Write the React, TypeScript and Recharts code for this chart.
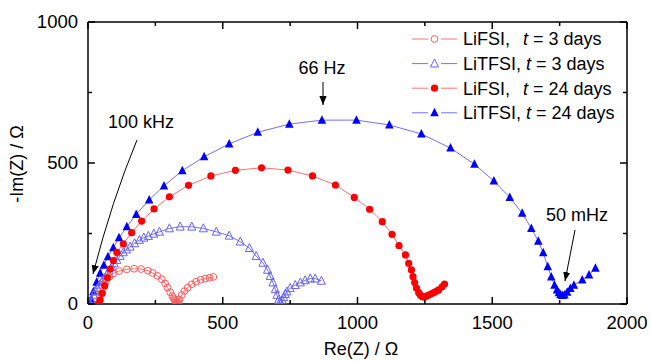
import React from 'react';
import { ScatterChart, Scatter, XAxis, YAxis } from 'recharts';

// [Re(Z), -Im(Z)] in ohm
const LIFSI_3D: [number, number][] = [
  [38, 2], [42, 18], [48, 38], [56, 58], [66, 78], [79, 96], [94, 108], [116, 117],
  [144, 123], [171, 125], [197, 124], [222, 118], [240, 110], [257, 100], [274, 88],
  [286, 73], [295, 58], [305, 42], [313, 28], [318, 20], [321, 15], [324, 10], [327, 6],
  [330, 4], [333, 3], [336, 8], [339, 16], [348, 32], [358, 46], [370, 58], [385, 70],
  [401, 79], [418, 86], [435, 90], [451, 93], [465, 96],
];

const LITFSI_3D: [number, number][] = [
  [7, 2], [12, 16], [20, 32], [27, 45], [35, 56], [43, 68], [51, 79], [60, 91], [69, 103],
  [78, 118], [88, 132], [97, 144], [107, 156], [119, 170], [131, 183], [143, 193],
  [156, 203], [173, 215], [191, 227], [207, 235], [224, 241], [244, 249], [265, 256],
  [302, 268], [342, 274], [385, 274], [428, 268], [476, 256], [524, 242], [565, 221],
  [599, 198], [624, 170], [649, 146], [666, 121], [676, 99], [686, 76], [695, 52],
  [701, 32], [707, 14], [711, 5], [716, 3], [721, 12], [726, 24], [732, 35], [738, 44],
  [750, 56], [769, 67], [788, 76], [806, 84], [825, 90], [843, 90], [866, 82],
];

const LIFSI_24D: [number, number][] = [
  [40, 2], [45, 14], [53, 38], [62, 65], [72, 93], [82, 124], [94, 154], [107, 183],
  [131, 213], [162, 253], [199, 294], [245, 337], [302, 380], [373, 421], [456, 454],
  [547, 474], [644, 483], [742, 475], [833, 454], [918, 422], [988, 378], [1045, 336],
  [1092, 292], [1128, 247], [1154, 207], [1178, 174], [1190, 144], [1200, 121],
  [1206, 97], [1212, 76], [1219, 56], [1227, 40], [1233, 32], [1240, 26], [1248, 24],
  [1256, 28], [1264, 32], [1274, 36], [1283, 40], [1292, 45], [1301, 50], [1314, 61],
  [1323, 71],
];

const LITFSI_24D: [number, number][] = [
  [4, 0], [10, 14], [20, 44], [32, 77], [45, 109], [59, 138], [74, 168], [94, 200],
  [115, 235], [144, 274], [179, 318], [227, 369], [282, 419], [350, 473], [431, 522],
  [524, 568], [630, 609], [747, 638], [868, 652], [996, 652], [1118, 635], [1237, 603],
  [1345, 553], [1434, 496], [1506, 436], [1565, 378], [1611, 322], [1645, 268],
  [1671, 223], [1689, 182], [1706, 132], [1719, 96], [1731, 67], [1740, 50], [1747, 40],
  [1753, 33], [1760, 30], [1768, 32], [1778, 42], [1790, 55], [1803, 67], [1834, 85],
  [1859, 103], [1883, 127],
];

const X_TICKS = [0, 250, 500, 750, 1000, 1250, 1500, 1750, 2000];
const Y_TICKS = [0, 250, 500, 750, 1000];

const FONT = '"Liberation Sans", Arial, sans-serif';
const RED = '#ff0000';
const RED_LINE = '#ff7272';
const RED_OPEN = '#ff5a5a';
const BLUE = '#0000ff';
const BLUE_LINE = '#7272ff';
const BLUE_OPEN = '#6464ff';

const toPts = (a: [number, number][]) => a.map(([x, y]) => ({ x, y }));

const triPts = (cx: number, cy: number, s: number) =>
  `${cx},${cy - s * 0.58} ${cx - s / 2},${cy + s * 0.42} ${cx + s / 2},${cy + s * 0.42}`;

const OpenCircle = (p: any) => <circle cx={p.cx} cy={p.cy} r={3.4} fill="none" stroke={RED_OPEN} strokeWidth={1} />;
const FullCircle = (p: any) => <circle cx={p.cx} cy={p.cy} r={3.6} fill={RED} />;
const OpenTri = (p: any) => <polygon points={triPts(p.cx, p.cy, 8)} fill="none" stroke={BLUE_OPEN} strokeWidth={1} />;
const FullTri = (p: any) => <polygon points={triPts(p.cx, p.cy, 8.5)} fill={BLUE} />;

function AxisTick(props: any) {
  const { x, y, payload, side } = props;
  const v = payload.value;
  const major = v % 500 === 0;
  const len = major ? 7 : 4;
  const txt = { fontFamily: FONT, fontSize: 18.5, fill: '#000' } as const;
  if (side === 'bottom') {
    return (
      <g>
        <line x1={x} y1={y} x2={x} y2={y - len} stroke="#000" strokeWidth={1.5} />
        {major && <text x={x} y={y + 25} textAnchor="middle" {...txt}>{v}</text>}
      </g>
    );
  }
  if (side === 'top') return <line x1={x} y1={y} x2={x} y2={y + len} stroke="#000" strokeWidth={1.5} />;
  if (side === 'left') {
    return (
      <g>
        <line x1={x} y1={y} x2={x + len} y2={y} stroke="#000" strokeWidth={1.5} />
        {major && <text x={x - 10} y={y} dy="0.35em" textAnchor="end" {...txt}>{v}</text>}
      </g>
    );
  }
  return <line x1={x} y1={y} x2={x - len} y2={y} stroke="#000" strokeWidth={1.5} />;
}

const LEGEND = [
  { name: 'LiFSI,', tx: 523, days: '3', color: RED_LINE, Mark: OpenCircle },
  { name: 'LiTFSI,', tx: 526, days: '3', color: BLUE_LINE, Mark: OpenTri },
  { name: 'LiFSI,', tx: 523, days: '24', color: RED_LINE, Mark: FullCircle },
  { name: 'LiTFSI,', tx: 526, days: '24', color: BLUE_LINE, Mark: FullTri },
];

export default function App() {
  const axisLine = { stroke: '#000', strokeWidth: 1.5 };
  return (
    <div style={{ position: 'absolute', left: 0, top: 0, width: 651, height: 361, background: '#fff' }}>
      <ScatterChart width={651} height={361} margin={{ top: 21, right: 23, bottom: 0, left: 0 }}>
        <XAxis xAxisId="b" type="number" dataKey="x" domain={[0, 2000]} ticks={X_TICKS} interval={0}
          height={57} tickSize={0} tickMargin={0} tickLine={false} axisLine={axisLine} allowDataOverflow
          tick={(p: any) => <AxisTick {...p} side="bottom" />} />
        <XAxis xAxisId="t" orientation="top" type="number" dataKey="x" domain={[0, 2000]} ticks={X_TICKS}
          interval={0} height={1} tickSize={0} tickMargin={0} tickLine={false} axisLine={axisLine} allowDataOverflow
          tick={(p: any) => <AxisTick {...p} side="top" />} />
        <YAxis yAxisId="l" type="number" dataKey="y" domain={[0, 1000]} ticks={Y_TICKS} interval={0}
          width={88} tickSize={0} tickMargin={0} tickLine={false} axisLine={axisLine} allowDataOverflow
          tick={(p: any) => <AxisTick {...p} side="left" />} />
        <YAxis yAxisId="r" orientation="right" type="number" dataKey="y" domain={[0, 1000]} ticks={Y_TICKS}
          interval={0} width={1} tickSize={0} tickMargin={0} tickLine={false} axisLine={axisLine} allowDataOverflow
          tick={(p: any) => <AxisTick {...p} side="right" />} />
        {/* empty series so the mirrored top/right axes get drawn */}
        <Scatter xAxisId="t" yAxisId="r" data={[]} isAnimationActive={false} />
        <Scatter xAxisId="b" yAxisId="l" data={toPts(LITFSI_24D)} line={{ stroke: BLUE_LINE, strokeWidth: 1 }}
          lineType="joint" shape={FullTri} isAnimationActive={false} />
        <Scatter xAxisId="b" yAxisId="l" data={toPts(LITFSI_3D)} line={{ stroke: BLUE_LINE, strokeWidth: 1 }}
          lineType="joint" shape={OpenTri} isAnimationActive={false} />
        <Scatter xAxisId="b" yAxisId="l" data={toPts(LIFSI_3D)} line={{ stroke: RED_LINE, strokeWidth: 1 }}
          lineType="joint" shape={OpenCircle} isAnimationActive={false} />
        <Scatter xAxisId="b" yAxisId="l" data={toPts(LIFSI_24D)} line={{ stroke: RED_LINE, strokeWidth: 1 }}
          lineType="joint" shape={FullCircle} isAnimationActive={false} />
      </ScatterChart>

      <svg width={651} height={361} style={{ position: 'absolute', left: 0, top: 0, pointerEvents: 'none' }}
        fontFamily={FONT} fontSize={18}>
        <defs>
          <marker id="ah" viewBox="0 0 10 10" refX="10" refY="5" markerWidth="9" markerHeight="9"
            markerUnits="userSpaceOnUse" orient="auto">
            <path d="M0,1 L10,5 L0,9 z" fill="#000" />
          </marker>
        </defs>
        {LEGEND.map((l, i) => {
          const cy = 39 + i * 24.6;
          return (
            <g key={i}>
              <line x1={412} y1={cy} x2={428} y2={cy} stroke={l.color} strokeWidth={1} />
              <line x1={441} y1={cy} x2={457} y2={cy} stroke={l.color} strokeWidth={1} />
              <l.Mark cx={434.5} cy={cy} />
              <text x={463} y={cy + 6.3}>{l.name}</text>
              <text x={l.tx} y={cy + 6.3}>
                <tspan fontStyle="italic">t</tspan> = {l.days} days
              </text>
            </g>
          );
        })}
        <text x={322} y={74} textAnchor="middle">66 Hz</text>
        <line x1={323} y1={82} x2={323} y2={105} stroke="#000" strokeWidth={1} markerEnd="url(#ah)" />
        <text x={141} y={128} textAnchor="middle">100 kHz</text>
        <path d="M137,140 Q112,200 93,274" fill="none" stroke="#000" strokeWidth={1} markerEnd="url(#ah)" />
        <text x={577} y={221} textAnchor="middle">50 mHz</text>
        <line x1={575} y1={230} x2={565} y2={281} stroke="#000" strokeWidth={1} markerEnd="url(#ah)" />
        <text x={361} y={355} textAnchor="middle">Re(Z) / Ω</text>
        <text x={0} y={0} textAnchor="middle" transform="translate(23,164) rotate(-90)">-Im(Z) / Ω</text>
      </svg>
    </div>
  );
}
